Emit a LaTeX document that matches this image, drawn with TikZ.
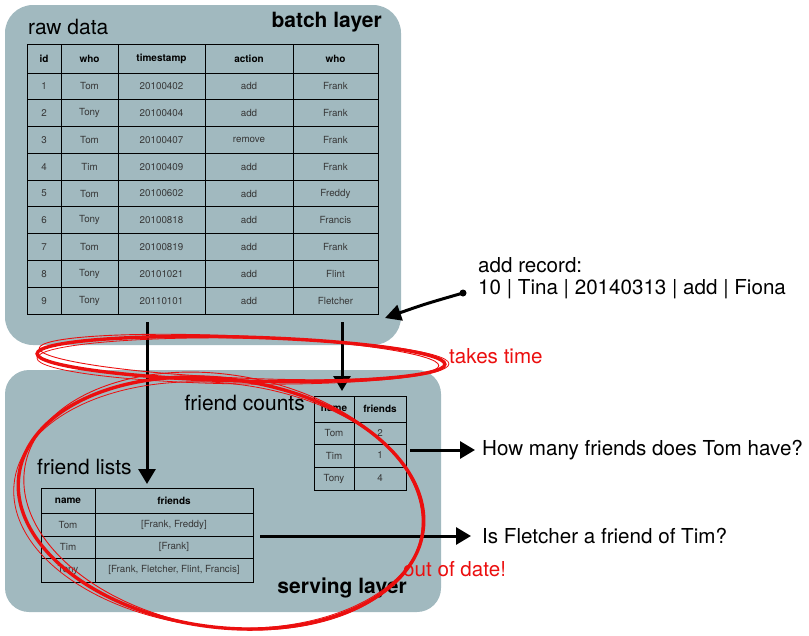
\documentclass[tikz,border=0pt]{standalone}
\usepackage{fontspec}
\setmainfont{TeX Gyre Heros}
\usetikzlibrary{arrows.meta}
\definecolor{layer}{RGB}{161,185,191}
\definecolor{celltext}{RGB}{55,55,55}
\definecolor{ink}{RGB}{235,15,15}
\tikzset{
  layerbox/.style={fill=layer, draw=none, rounded corners=28pt},
  grid/.style={draw=black, line width=1pt},
  cell/.style={font=\fontsize{9.8}{10}\selectfont, text=celltext, inner sep=0pt},
  headcell/.style={font=\fontsize{10}{10}\selectfont\bfseries, text=black, inner sep=0pt},
  title/.style={font=\fontsize{21}{22}\selectfont, inner sep=0pt, anchor=west},
  btitle/.style={font=\fontsize{21}{22}\selectfont\bfseries, inner sep=0pt},
  big/.style={font=\fontsize{20.6}{22}\selectfont, inner sep=0pt, anchor=west},
  redtext/.style={font=\fontsize{20.6}{22}\selectfont, text=ink, inner sep=0pt, anchor=west},
  flow/.style={line width=3pt, -{Triangle[length=15pt,width=17pt]}},
  scribble/.style={draw=ink, line width=1.6pt},
}
\begin{document}
\begin{tikzpicture}[x=1pt,y=-1pt]
\useasboundingbox (0,0) rectangle (809,635);
% layers
\path[layerbox] (5,5) rectangle (401,345);
\node[inner sep=0pt] (batch) at (203,175) {};
\path[layerbox, rounded corners=24pt] (5,370) rectangle (441,612);
\node[inner sep=0pt] (serving) at (223,491) {};
\node[title] (rawlbl) at (28,27) {raw data};
\node[btitle, anchor=east] (batchlbl) at (382,22) {batch layer};
\node[btitle, anchor=east] (servlbl) at (407,588) {serving layer};

% raw data table
\draw[grid] (27,44) rectangle (378,314);
\foreach \x in {61,118,205,293} \draw[grid] (\x,44) -- (\x,314);
\foreach \r in {1,...,9} {
  \pgfmathsetmacro{\yy}{73+26.78*(\r-1)}
  \draw[grid] (27,\yy) -- (378,\yy);
}
\node[headcell] (h1) at (44,59) {id};
\node[headcell] (h2) at (89.5,59) {who};
\node[headcell] (h3) at (161.5,59) {timestamp};
\node[headcell] (h4) at (249,59) {action};
\node[headcell] (h5) at (335.5,59) {who};
\foreach \i/\w/\t/\a/\f in {1/Tom/20100402/add/Frank, 2/Tony/20100404/add/Frank,
  3/Tom/20100407/remove/Frank, 4/Tim/20100409/add/Frank, 5/Tom/20100602/add/Freddy,
  6/Tony/20100818/add/Francis, 7/Tom/20100819/add/Frank, 8/Tony/20101021/add/Flint,
  9/Tony/20110101/add/Fletcher} {
  \pgfmathsetmacro{\yy}{73+26.78*(\i-0.5)}
  \node[cell] (r\i c1) at (44,\yy) {\i};
  \node[cell] (r\i c2) at (89.5,\yy) {\w};
  \node[cell] (r\i c3) at (161.5,\yy) {\t};
  \node[cell] (r\i c4) at (249,\yy) {\a};
  \node[cell] (r\i c5) at (335.5,\yy) {\f};
}
\coordinate (rawA) at (147,322);
\coordinate (rawB) at (342,322);

% friend counts table
\node[title, anchor=east] (fclbl) at (305,403) {friend counts};
\draw[grid] (314,396) rectangle (406,490);
\draw[grid] (354,396) -- (354,490);
\foreach \y in {422,444,467} \draw[grid] (314,\y) -- (406,\y);
\node[headcell] (fch1) at (334,409) {name};
\node[headcell] (fch2) at (380,409) {friends};
\node[cell] (fc1a) at (334,433) {Tom};  \node[cell] (fc1b) at (380,433) {2};
\node[cell] (fc2a) at (334,455.5) {Tim};  \node[cell] (fc2b) at (380,455.5) {1};
\node[cell] (fc3a) at (334,478.5) {Tony}; \node[cell] (fc3b) at (380,478.5) {4};
\coordinate (fctop) at (342,391);
\coordinate (fcout) at (410,450);

% friend lists table
\node[title] (fllbl) at (37,467) {friend lists};
\draw[grid] (41,488) rectangle (253,582);
\draw[grid] (95,488) -- (95,582);
\foreach \y in {513,536,558} \draw[grid] (41,\y) -- (253,\y);
\node[headcell] (flh1) at (68,500.5) {name};
\node[headcell] (flh2) at (174,500.5) {friends};
\node[cell] (fl1a) at (68,524.5) {Tom};  \node[cell] (fl1b) at (174,524.5) {[Frank, Freddy]};
\node[cell] (fl2a) at (68,547) {Tim};  \node[cell] (fl2b) at (174,547) {[Frank]};
\node[cell] (fl3a) at (68,570) {Tony}; \node[cell] (fl3b) at (174,570) {[Frank, Fletcher, Flint, Francis]};
\coordinate (fltop) at (147,484);
\coordinate (flout) at (260,536);

% questions and record
\node[big] (q1) at (482,450) {How many friends does Tom have?};
\node[big] (q2) at (482,536) {Is Fletcher a friend of Tim?};
\node[big] (rec1) at (478,265) {add record:};
\node[big] (rec2) at (478,289) {10 | Tina | 20140313 | add | Fiona};
\coordinate (recstart) at (463,293);
\coordinate (recend) at (385,318);

% flows
\draw[flow] (rawA) -- (fltop);
\draw[flow] (rawB) -- (fctop);
\draw[flow] (fcout) -- (q1.west -| 475,0);
\draw[flow] (flout) -- (q2.west -| 471,0);
\fill (recstart) circle (3.5pt);
\draw[line width=3pt, -{Triangle[length=16pt,width=16pt]}] (recstart) .. controls (425,304) .. (recend);

% red scribbles
\node[redtext] (takes) at (449,356) {takes time};
\node[redtext] (ood) at (403,569) {out of date!};
\begin{scope}
\draw[scribble, line width=3.4pt] (241,359) ellipse [x radius=204pt, y radius=22pt, rotate=-1.5];
\draw[scribble, line width=0.9pt] (239,357) ellipse [x radius=200pt, y radius=21pt, rotate=-2.5];
\draw[scribble, line width=0.8pt] (243,361) ellipse [x radius=206pt, y radius=23pt, rotate=-0.8];
\draw[scribble, line width=3.4pt] (221,503) ellipse [x radius=204pt, y radius=124pt, rotate=-8];
\draw[scribble, line width=0.9pt] (223,501) ellipse [x radius=201pt, y radius=126pt, rotate=-10];
\draw[scribble, line width=0.8pt] (219,505) ellipse [x radius=206pt, y radius=122pt, rotate=-6];
\end{scope}
\end{tikzpicture}
\end{document}
